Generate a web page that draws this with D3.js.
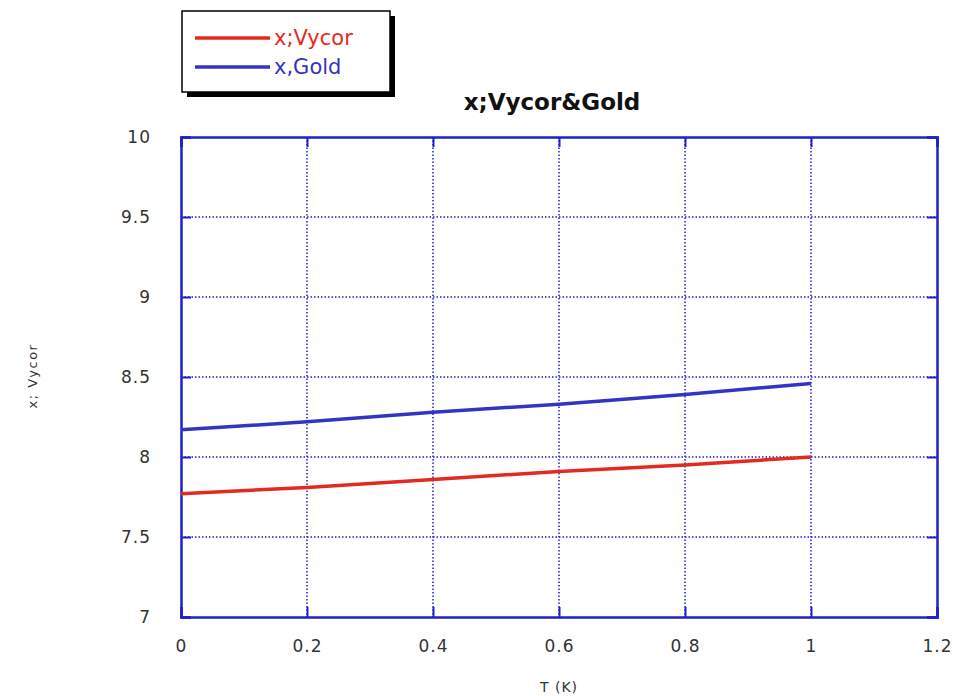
<!DOCTYPE html>
<html lang="en">
<head>
  <meta charset="UTF-8">
  <title>x;Vycor&amp;Gold</title>
  <script src="https://d3js.org/d3.v7.min.js"></script>
  <style>
    body { margin: 0; background: #fff; }
    text { font-family: "DejaVu Sans", sans-serif; }
  </style>
</head>
<body>
  <div class="canvas"></div>
  <script>
    const temps = [0, 0.2, 0.4, 0.6, 0.8, 1];
    const vycor = [7.77, 7.81, 7.86, 7.91, 7.95, 8.0];
    const gold = [8.17, 8.22, 8.28, 8.33, 8.39, 8.46];
    const xTicks = [0, 0.2, 0.4, 0.6, 0.8, 1, 1.2];
    const yTicks = [7, 7.5, 8, 8.5, 9, 9.5, 10];
    const seriesNames = ["x;Vycor", "x,Gold"];
    const seriesColors = ["#e42a1f", "#3434c4"];

    const svgWidth = 958;
    const svgHeight = 696;
    const margin = { top: 137, right: 21, bottom: 79, left: 181 };
    const graphWidth = svgWidth - margin.left - margin.right;
    const graphHeight = svgHeight - margin.top - margin.bottom;
    const axisBlue = "#1f1fd0";
    const tickLen = 10;

    const svg = d3.select(".canvas")
      .append("svg")
      .attr("width", svgWidth)
      .attr("height", svgHeight);

    const graph = svg.append("g")
      .attr("transform", `translate(${margin.left}, ${margin.top})`);

    const x = d3.scaleLinear().domain([0, 1.2]).range([0, graphWidth]);
    const y = d3.scaleLinear().domain([7, 10]).range([graphHeight, 0]);

    // dotted grid
    graph.append("g").selectAll("line")
      .data(xTicks.slice(1, -1))
      .join("line")
      .attr("x1", d => x(d)).attr("x2", d => x(d))
      .attr("y1", 0).attr("y2", graphHeight)
      .attr("stroke", axisBlue)
      .attr("stroke-width", 1.5)
      .attr("stroke-dasharray", "1.5,2");

    graph.append("g").selectAll("line")
      .data(yTicks.slice(1, -1))
      .join("line")
      .attr("x1", 0).attr("x2", graphWidth)
      .attr("y1", d => y(d)).attr("y2", d => y(d))
      .attr("stroke", axisBlue)
      .attr("stroke-width", 1.5)
      .attr("stroke-dasharray", "1.5,2");

    // axes with inward ticks
    const xAxis = d3.axisBottom(x).tickValues(xTicks).tickSize(-tickLen).tickPadding(23).tickFormat(d3.format("~g"));
    const xAxisTop = d3.axisTop(x).tickValues(xTicks).tickSize(-tickLen).tickFormat("");
    const yAxis = d3.axisLeft(y).tickValues(yTicks).tickSize(-tickLen).tickPadding(30).tickFormat(d3.format("~g"));
    const yAxisRight = d3.axisRight(y).tickValues(yTicks).tickSize(-tickLen).tickFormat("");

    const styleAxis = g => {
      g.select(".domain").attr("stroke", axisBlue).attr("stroke-width", 2.5);
      g.selectAll(".tick line").attr("stroke", axisBlue).attr("stroke-width", 2);
      g.selectAll(".tick text")
        .attr("fill", "#333")
        .style("font-size", "17px")
        .style("letter-spacing", "1px");
    };

    graph.append("g").attr("transform", `translate(0, ${graphHeight})`).call(xAxis).call(styleAxis);
    graph.append("g").call(xAxisTop).call(styleAxis);
    graph.append("g").call(yAxis).call(styleAxis);
    graph.append("g").attr("transform", `translate(${graphWidth}, 0)`).call(yAxisRight).call(styleAxis);

    // data lines
    const line = d3.line()
      .x(d => x(d[0]))
      .y(d => y(d[1]));

    [vycor, gold].forEach((vals, i) => {
      graph.append("path")
        .datum(temps.map((t, j) => [t, vals[j]]))
        .attr("fill", "none")
        .attr("stroke", seriesColors[i])
        .attr("stroke-width", 3.5)
        .attr("d", line);
    });

    // title and axis labels
    svg.append("text")
      .attr("x", 552).attr("y", 110)
      .attr("text-anchor", "middle")
      .style("font-size", "23px")
      .style("font-weight", "bold")
      .attr("fill", "#111")
      .text("x;Vycor&Gold");

    svg.append("text")
      .attr("x", 559).attr("y", 692)
      .attr("text-anchor", "middle")
      .style("font-size", "14px")
      .style("letter-spacing", "1px")
      .attr("fill", "#333")
      .text("T (K)");

    svg.append("text")
      .attr("transform", "translate(37, 376) rotate(-90)")
      .attr("text-anchor", "middle")
      .style("font-size", "13px")
      .style("letter-spacing", "1.5px")
      .attr("fill", "#333")
      .text("x; Vycor");

    // legend
    const legend = svg.append("g").attr("transform", "translate(182, 11)");
    legend.append("rect")
      .attr("x", 5).attr("y", 5).attr("width", 208).attr("height", 81)
      .attr("fill", "#000");
    legend.append("rect")
      .attr("x", 0).attr("y", 0).attr("width", 208).attr("height", 81)
      .attr("fill", "#fff").attr("stroke", "#000").attr("stroke-width", 1.5);

    seriesNames.forEach((name, i) => {
      const ly = 27 + i * 29;
      legend.append("line")
        .attr("x1", 13).attr("x2", 88)
        .attr("y1", ly).attr("y2", ly)
        .attr("stroke", seriesColors[i])
        .attr("stroke-width", 3.5);
      legend.append("text")
        .attr("x", 92).attr("y", ly + 7)
        .style("font-size", "21px")
        .attr("fill", seriesColors[i])
        .text(name);
    });
  </script>
</body>
</html>
